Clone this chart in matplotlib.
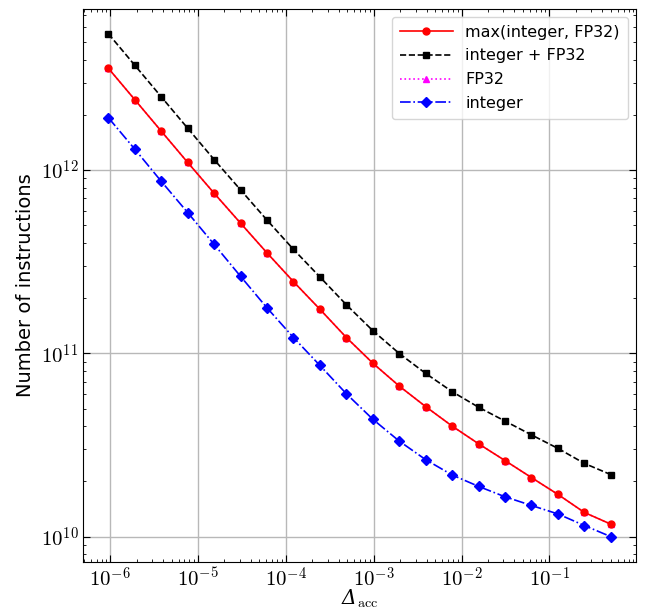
import matplotlib
matplotlib.use('Agg')
import numpy as np
import matplotlib.pyplot as plt
from matplotlib.ticker import FuncFormatter, NullFormatter

# ── Data ──────────────────────────────────────────────────────────────────────
delta_acc = [9.537e-07, 1.907e-06, 3.815e-06, 7.629e-06, 1.526e-05,
             3.052e-05, 6.104e-05, 1.221e-04, 2.441e-04, 4.883e-04,
             9.766e-04, 1.953e-03, 3.906e-03, 7.813e-03, 1.563e-02,
             3.125e-02, 6.250e-02, 1.250e-01, 2.500e-01, 5.000e-01]

n_max = [3.59e12, 2.42e12, 1.63e12, 1.10e12, 7.47e11,
         5.13e11, 3.53e11, 2.46e11, 1.74e11, 1.22e11,
         8.84e10, 6.63e10, 5.12e10, 4.01e10, 3.21e10,
         2.60e10, 2.10e10, 1.70e10, 1.355e10, 1.17e10]

n_sum = [5.54e12, 3.73e12, 2.51e12, 1.69e12, 1.14e12,
         7.79e11, 5.33e11, 3.69e11, 2.61e11, 1.84e11,
         1.33e11, 9.98e10, 7.77e10, 6.18e10, 5.08e10,
         4.27e10, 3.59e10, 3.03e10, 2.51e10, 2.18e10]

n_fp32 = [3.59e12, 2.42e12, 1.63e12, 1.10e12, 7.47e11,
          5.13e11, 3.53e11, 2.46e11, 1.74e11, 1.22e11,
          8.84e10, 6.63e10, 5.12e10, 4.01e10, 3.21e10,
          2.60e10, 2.10e10, 1.70e10, 1.355e10, 1.17e10]

n_int = [1.93e12, 1.30e12, 8.68e11, 5.86e11, 3.93e11,
         2.63e11, 1.77e11, 1.22e11, 8.59e10, 6.02e10,
         4.37e10, 3.32e10, 2.63e10, 2.17e10, 1.88e10,
         1.65e10, 1.48e10, 1.33e10, 1.15e10, 1.00e10]

plt.rcParams['mathtext.fontset'] = 'cm'
plt.rcParams['font.family'] = 'DejaVu Sans'


def decade_label(v, pos):
    return r'$10^{%d}$' % int(round(np.log10(v)))


fig = plt.figure(figsize=(6.45, 6.12), dpi=100)
ax = fig.add_axes([0.129, 0.082, 0.857, 0.904])

h_fp32, = ax.plot(delta_acc, n_fp32, color='magenta', ls=':', marker='^',
                  ms=5, lw=1.2, zorder=2, label='FP32')
h_max, = ax.plot(delta_acc, n_max, color='red', ls='-', marker='o',
                 ms=5, lw=1.2, zorder=3, label='max(integer, FP32)')
h_sum, = ax.plot(delta_acc, n_sum, color='black', ls='--', marker='s',
                 ms=5, lw=1.2, zorder=3, label='integer + FP32')
h_int, = ax.plot(delta_acc, n_int, color='blue', ls='-.', marker='D',
                 ms=5, lw=1.2, zorder=3, label='integer')

ax.set_xscale('log')
ax.set_yscale('log')
for axis in (ax.xaxis, ax.yaxis):
    axis.set_major_formatter(FuncFormatter(decade_label))
    axis.set_minor_formatter(NullFormatter())

ax.grid(True, which='major', color='#b8b8b8', lw=1.0)
ax.set_axisbelow(True)
ax.tick_params(which='both', direction='in', top=True, right=True,
               labelsize=15)
ax.tick_params(which='major', length=5)
ax.tick_params(which='minor', length=2.5)

ax.set_xlabel('Δ' + r'$_{\mathrm{acc}}$', fontsize=14.5, labelpad=-2,
              family='DejaVu Serif', style='italic')
ax.set_ylabel('Number of instructions', fontsize=14, labelpad=4)

ax.legend(handles=[h_max, h_sum, h_fp32, h_int], loc='upper right',
          fontsize=11.5, handlelength=3.3, labelspacing=0.55,
          framealpha=0.8, borderpad=0.5)

fig.savefig('out.png', dpi=100)
